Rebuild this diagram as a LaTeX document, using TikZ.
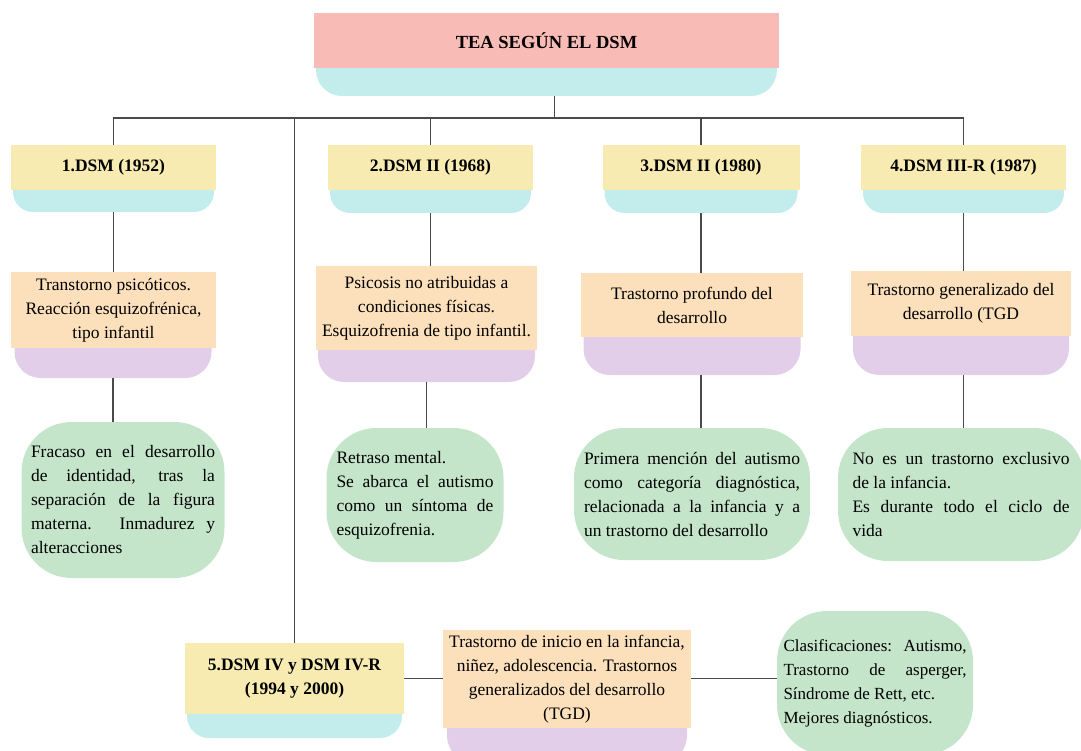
\documentclass[tikz,border=0pt]{standalone}
\usepackage{fontspec}
\setmainfont{Liberation Serif}
\definecolor{cpink}{HTML}{F9BBB6}
\definecolor{ccyan}{HTML}{C3ECEC}
\definecolor{cyel}{HTML}{F8EBB2}
\definecolor{corange}{HTML}{FCDFBB}
\definecolor{cpurple}{HTML}{E3CEEA}
\definecolor{cgreen}{HTML}{C4E5CA}
\definecolor{cline}{HTML}{4A4A4A}
\tikzset{
  txt/.style={font=\fontsize{17.5}{24}\selectfont},
  plainbox/.style={rectangle, inner sep=0pt, align=center, txt},
  titlebox/.style={plainbox, fill=cpink, font=\bfseries\fontsize{18.5}{22}\selectfont},
  yearbox/.style={plainbox, fill=cyel, font=\bfseries\fontsize{17.5}{24}\selectfont},
  orangebox/.style={plainbox, fill=corange},
  decobox/.style={rectangle, inner sep=0pt, fill=#1, rounded corners=26},
  greenbox/.style={rectangle, inner sep=0pt, fill=cgreen, rounded corners=50, align=justify, txt},
  conn/.style={draw=cline, line width=1.2pt},
}
\begin{document}
\begin{tikzpicture}[x=1pt,y=-1pt]
\useasboundingbox (0,0) rectangle (1081,751);
\clip (0,0) rectangle (1081,751);
% title
\node[decobox=ccyan, minimum width=461, minimum height=56] (topd) at (546.5,68) {};
\node[titlebox, minimum width=465, minimum height=55] (top) at (546.5,40.5) {TEA SEGÚN EL DSM};
% year boxes
\node[decobox=ccyan, minimum width=201, minimum height=42, rounded corners=20] (y1d) at (113.5,191) {};
\node[yearbox, minimum width=205, minimum height=45] (y1) at (113.5,167.5) {1.DSM (1952)};
\node[decobox=ccyan, minimum width=201, minimum height=43, rounded corners=20] (y2d) at (430.5,191.5) {};
\node[yearbox, minimum width=205, minimum height=45] (y2) at (430.5,167.5) {2.DSM II (1968)};
\node[decobox=ccyan, minimum width=193, minimum height=43, rounded corners=20] (y3d) at (701,191.5) {};
\node[yearbox, minimum width=197, minimum height=45] (y3) at (701,167.5) {3.DSM II (1980)};
\node[decobox=ccyan, minimum width=201, minimum height=43, rounded corners=20] (y4d) at (963.5,191.5) {};
\node[yearbox, minimum width=205, minimum height=45] (y4) at (963.5,167.5) {4.DSM III-R (1987)};
% orange boxes
\node[decobox=cpurple, minimum width=197, minimum height=58] (o1d) at (113,349) {};
\node[orangebox, minimum width=205, minimum height=76] (o1) at (113.5,310) {Transtorno psicóticos.\\Reacción esquizofrénica,\\tipo infantil};
\node[decobox=cpurple, minimum width=217, minimum height=62] (o2d) at (426.5,351) {};
\node[orangebox, minimum width=221, minimum height=84] (o2) at (426.5,308) {Psicosis no atribuidas a\\condiciones físicas.\\Esquizofrenia de tipo infantil.};
\node[decobox=cpurple, minimum width=217, minimum height=75] (o3d) at (692,337.5) {};
\node[orangebox, minimum width=222, minimum height=64] (o3) at (692,305) {Trastorno profundo del\\desarrollo};
\node[decobox=cpurple, minimum width=216, minimum height=75] (o4d) at (961,337.5) {};
\node[orangebox, minimum width=220, minimum height=65] (o4) at (961,303.5) {Trastorno generalizado del\\desarrollo (TGD};
% green boxes
\node[greenbox, minimum width=203, minimum height=156, text width=184] (g1) at (123,500) {Fracaso en el desarrollo\linebreak de identidad, tras la\linebreak separación de la figura\linebreak materna. Inmadurez y\linebreak alteracciones};
\node[greenbox, minimum width=177, minimum height=134, text width=157] (g2) at (415,495) {Retraso mental.\\Se abarca el autismo\linebreak como un síntoma de\linebreak esquizofrenia.};
\node[greenbox, minimum width=236, minimum height=132, text width=216] (g3) at (692,494) {Primera mención del autismo\linebreak como categoría diagnóstica,\linebreak relacionada a la infancia y a\linebreak un trastorno del desarrollo};
\node[greenbox, minimum width=246, minimum height=133, text width=217] (g4) at (961,494.5) {No es un trastorno exclusivo\linebreak de la infancia.\\Es durante todo el ciclo de\linebreak vida};
% bottom row
\node[decobox=ccyan, minimum width=215, minimum height=46, rounded corners=22] (y5d) at (294.5,715) {};
\node[yearbox, minimum width=219, minimum height=71] (y5) at (294.5,678.5) {5.DSM IV y DSM IV-R\\(1994 y 2000)};
\node[decobox=cpurple, minimum width=240, minimum height=70, rounded corners=30] (o5d) at (567,730) {};
\node[orangebox, minimum width=248, minimum height=98] (o5) at (567,679) {Trastorno de inicio en la infancia,\\niñez, adolescencia. Trastornos\\generalizados del desarrollo\\(TGD)};
\node[greenbox, minimum width=196, minimum height=144, text width=183, font=\fontsize{17}{24}\selectfont] (g5) at (875,683) {Clasificaciones: Autismo,\linebreak Trastorno de asperger,\linebreak Síndrome de Rett, etc.\\Mejores diagnósticos.};
% connectors
\coordinate (bus) at (0,118);
\draw[conn] ([xshift=8pt]topd.south) -- ([xshift=8pt]topd.south |- bus);
\draw[conn] (y1.north) -- (y1.north |- bus) -| (y4.north);
\draw[conn] (y2.north) -- (y2.north |- bus);
\draw[conn] (y3.north) -- (y3.north |- bus);
\draw[conn] (y5.north) -- (y5.north |- bus);
\draw[conn] (y1d.south) -- (y1d.south |- o1.north);
\draw[conn] (y2d.south) -- (y2d.south |- o2.north);
\draw[conn] (y3d.south) -- (y3d.south |- o3.north);
\draw[conn] (y4d.south) -- (y4d.south |- o4.north);
\draw[conn] (o1d.south) -- (o1d.south |- g1.north);
\draw[conn] (o2d.south) -- (o2d.south |- g2.north);
\draw[conn] (y3d.south |- o3d.south) -- (y3d.south |- g3.north);
\draw[conn] (y4d.south |- o4d.south) -- (y4d.south |- g4.north);
\draw[conn] (y5.east) -- (y5.east -| o5.west);
\draw[conn] (o5.east |- y5.east) -- (g5.west |- y5.east);
\end{tikzpicture}
\end{document}
